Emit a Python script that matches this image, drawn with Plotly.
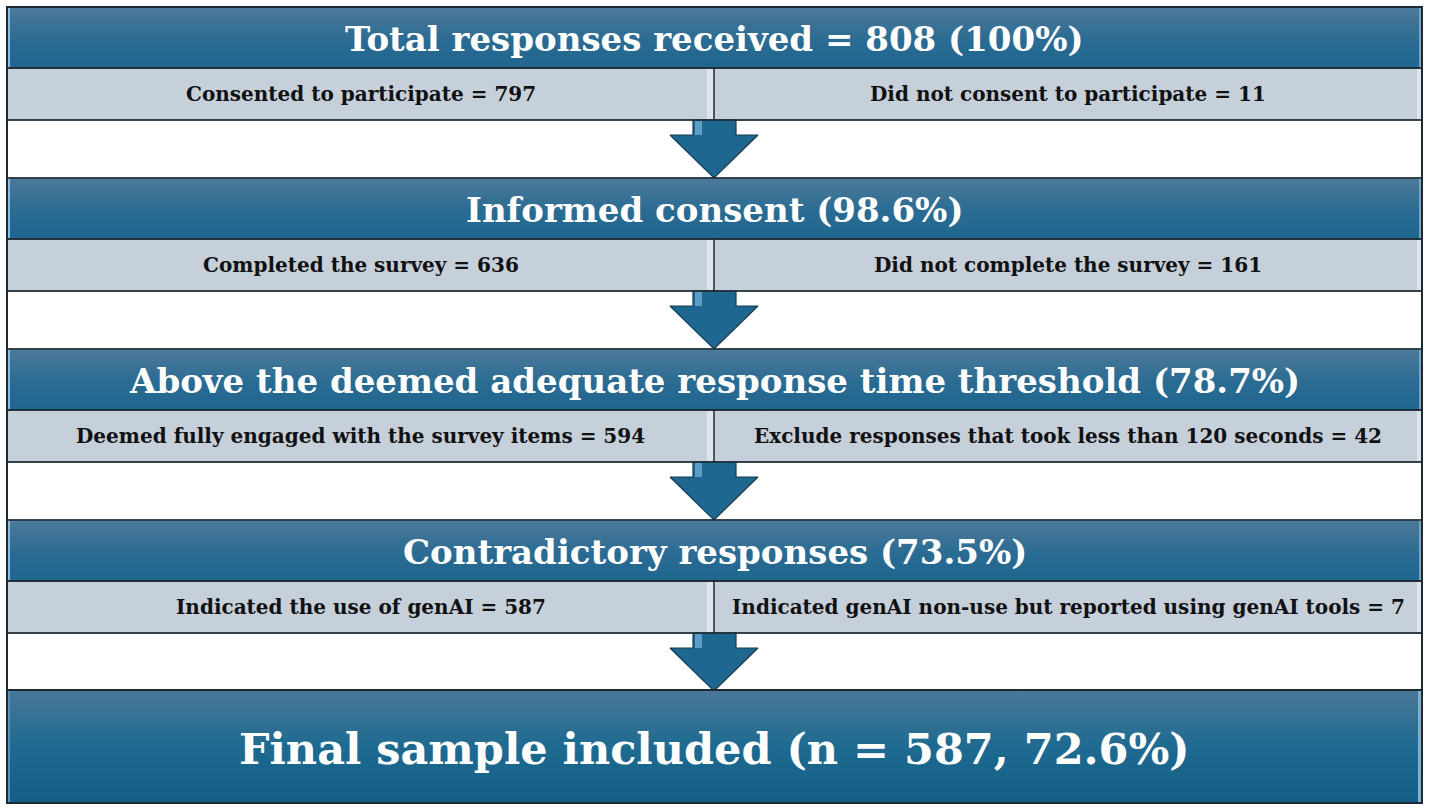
import plotly.graph_objects as go

# ---------------- data ----------------
stage_titles = ["Total responses received", "Informed consent",
                "Above the deemed adequate response time threshold",
                "Contradictory responses"]
stage_counts = [808, None, None, None]
stage_pcts = ["100%", "98.6%", "78.7%", "73.5%"]
kept_labels = ["Consented to participate", "Completed the survey",
               "Deemed fully engaged with the survey items",
               "Indicated the use of genAI"]
kept_counts = [797, 636, 594, 587]
excluded_labels = ["Did not consent to participate", "Did not complete the survey",
                   "Exclude responses that took less than 120 seconds",
                   "Indicated genAI non-use but reported using genAI tools"]
excluded_counts = [11, 161, 42, 7]
final_label = "Final sample included"
final_n = 587
final_pct = "72.6%"

# ---------------- layout geometry (pixels) ----------------
W, H = 1429, 811
X0, X1, XM = 7, 1422, 714
HEAD_H, SUB_H, GAP_H = 61, 52, 58
STEP = HEAD_H + SUB_H + GAP_H
FINAL_TOP, FINAL_BOT = 690, 803

FONT = "DejaVu Serif"
HEAD_GRAD = [[0, "#1f6690"], [0.45, "#2a6b92"], [1, "#4d7a9a"]]
FINAL_GRAD = [[0, "#125e85"], [0.5, "#1e6a90"], [1, "#4a7898"]]
SUB_FILL = "#c6d0da"
EDGE = "#1e2a33"

fig = go.Figure()
shapes = []
annotations = []


def grad_rect(x0, y0, x1, y1, scale):
    fig.add_trace(go.Scatter(
        x=[x0, x1, x1, x0, x0], y=[y0, y0, y1, y1, y0],
        mode="lines", fill="toself", line=dict(width=0),
        fillgradient=dict(type="vertical", colorscale=scale),
        hoverinfo="skip", showlegend=False))


def rect(x0, y0, x1, y1, fill=None, line=EDGE, lw=1.5, layer="above"):
    shapes.append(dict(type="rect", xref="x", yref="y", x0=x0, y0=y0, x1=x1, y1=y1,
                       fillcolor=fill if fill else "rgba(0,0,0,0)",
                       line=dict(color=line if line else "rgba(0,0,0,0)", width=lw if line else 0),
                       layer=layer))


def text(x, y, s, size, color):
    annotations.append(dict(x=x, y=y, xref="x", yref="y", text=s, showarrow=False,
                            font=dict(family=FONT, size=size, color=color),
                            xanchor="center", yanchor="middle"))


for i in range(len(stage_titles)):
    top = 7 + i * STEP
    hb = top + HEAD_H
    sb = hb + SUB_H
    # header band
    grad_rect(X0, top, X1, hb, HEAD_GRAD)
    rect(X0, top, X0 + 3, hb, fill="#8dbde0", line=None, layer="above")
    rect(X1 - 3, top, X1, hb, fill="#6fa6cc", line=None, layer="above")
    rect(X0, top, X1, hb)
    title = stage_titles[i]
    if stage_counts[i] is not None:
        title += f" = {stage_counts[i]}"
    title += f" ({stage_pcts[i]})"
    text((X0 + X1) / 2, top + HEAD_H / 2 + 1, f"<b>{title}</b>", 34, "white")
    # sub row
    rect(X0, hb, X1, sb, fill=SUB_FILL, line=None, layer="below")
    rect(XM - 7, hb + 1, XM, sb - 1, fill="#dde4ea", line=None, layer="below")
    rect(X1 - 5, hb + 1, X1, sb - 1, fill="#dde4ea", line=None, layer="below")
    rect(X0, hb, X1, sb)
    shapes.append(dict(type="line", xref="x", yref="y", x0=XM, x1=XM, y0=hb, y1=sb,
                       line=dict(color=EDGE, width=1.5)))
    text((X0 + XM) / 2, hb + SUB_H / 2,
         f"<b>{kept_labels[i]} = {kept_counts[i]}</b>", 20, "#111111")
    text((XM + X1) / 2, hb + SUB_H / 2,
         f"<b>{excluded_labels[i]} = {excluded_counts[i]}</b>", 20, "#111111")
    # white gap + arrow
    gb = sb + GAP_H
    rect(X0, sb, X1, gb, fill="white", line=EDGE, lw=1.2, layer="below")
    ax = [XM - 21, XM + 22, XM + 22, XM + 44, XM, XM - 44, XM - 21, XM - 21]
    ay = [sb, sb, sb + 15, sb + 15, gb, sb + 15, sb + 15, sb]
    fig.add_trace(go.Scatter(x=ax, y=ay, mode="lines", fill="toself",
                             fillcolor="#1d6790", line=dict(color="#163c52", width=1.2),
                             hoverinfo="skip", showlegend=False))
    fig.add_trace(go.Scatter(x=[XM - 19, XM - 12, XM - 12, XM - 19, XM - 19],
                             y=[sb + 1, sb + 1, sb + 15, sb + 15, sb + 1],
                             mode="lines", fill="toself", fillcolor="#5e9cc4",
                             line=dict(width=0), hoverinfo="skip", showlegend=False))

# final box
grad_rect(X0, FINAL_TOP, X1, FINAL_BOT, FINAL_GRAD)
rect(X1 - 4, FINAL_TOP, X1, FINAL_BOT, fill="#7ab0d4", line=None)
rect(X0, FINAL_TOP, X0 + 3, FINAL_BOT, fill="#5d92b8", line=None)
rect(X0, FINAL_TOP, X1, FINAL_BOT, lw=2)
text((X0 + X1) / 2, (FINAL_TOP + FINAL_BOT) / 2 + 2,
     f"<b>{final_label} (n = {final_n}, {final_pct})</b>", 43, "white")

# outer border
rect(X0, 7, X1, FINAL_BOT, lw=2)

fig.update_layout(
    width=W, height=H, margin=dict(l=0, r=0, t=0, b=0),
    paper_bgcolor="white", plot_bgcolor="white",
    xaxis=dict(range=[0, W], visible=False, fixedrange=True),
    yaxis=dict(range=[H, 0], visible=False, fixedrange=True),
    shapes=shapes, annotations=annotations, showlegend=False,
)
fig.write_html("out.html", config={"displayModeBar": False},
               post_script="document.body.style.margin='0';document.body.style.overflow='hidden';")
